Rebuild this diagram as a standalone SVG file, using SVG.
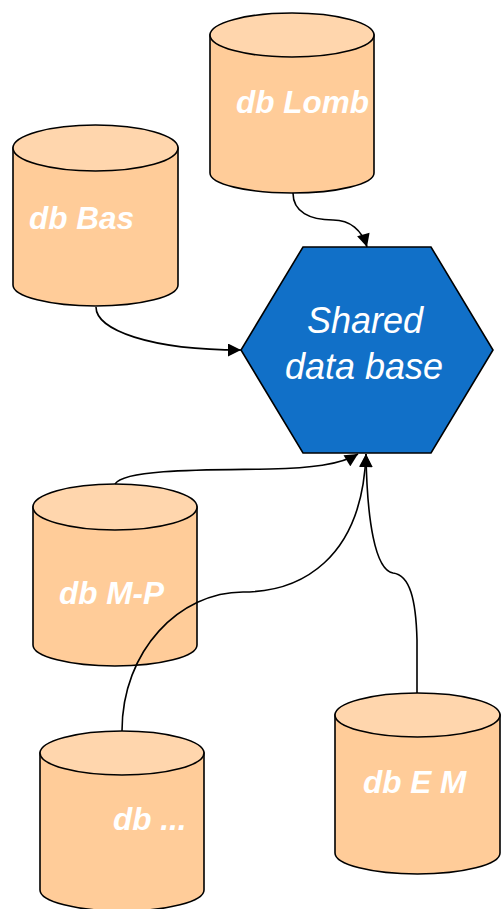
<svg xmlns="http://www.w3.org/2000/svg" width="504" height="909" viewBox="0 0 504 909">
<style>
.body{fill:#FFCC99;stroke:#000;stroke-width:1.6}
.top{fill:#FFD6AD;stroke:#000;stroke-width:1.6}
.lbl{font-family:"Liberation Sans",Arial,sans-serif;font-weight:bold;font-style:italic;font-size:31.5px;fill:#fff}
.hex{fill:#1170C8;stroke:#000;stroke-width:1.6}
.hl{font-family:"Liberation Sans",Arial,sans-serif;font-style:italic;font-size:36px;fill:#fff;text-anchor:middle}
.c{fill:none;stroke:#000;stroke-width:1.6}
</style>
<defs>
<marker id="ah" viewBox="0 0 10 10" refX="10" refY="5" markerWidth="14" markerHeight="13" markerUnits="userSpaceOnUse" orient="auto">
<path d="M0,0 L10,5 L0,10 z" fill="#000"/>
</marker>
</defs>
<g id="hub">
<polygon class="hex" points="303,247 431,247 493,350 431,453 303,453 241,350"/>
<text class="hl" x="365" y="333">Shared</text>
<text class="hl" x="364" y="379">data base</text>
</g>
<g id="db-lomb">
<path class="body" d="M210,35 L210,173 A82,20 0 0 0 374,173 L374,35 Z"/>
<ellipse class="top" cx="292" cy="35" rx="82" ry="22"/>
<text class="lbl" x="236" y="113">db Lomb</text>
</g>
<g id="db-bas">
<path class="body" d="M13,148 L13,285 A82.5,21 0 0 0 178,285 L178,148 Z"/>
<ellipse class="top" cx="95.5" cy="148" rx="82.5" ry="23"/>
<text class="lbl" x="29" y="229">db Bas</text>
</g>
<g id="db-mp">
<path class="body" d="M33,507 L33,645 A82,21 0 0 0 197,645 L197,507 Z"/>
<ellipse class="top" cx="115" cy="507" rx="82" ry="23"/>
<text class="lbl" x="59" y="604">db M-P</text>
</g>
<g id="db-etc">
<path class="body" d="M40,753 L40,890 A82,21 0 0 0 204,890 L204,753 Z"/>
<ellipse class="top" cx="122" cy="753" rx="82" ry="22"/>
<text class="lbl" x="113" y="830">db ...</text>
</g>
<g id="db-em">
<path class="body" d="M335,715 L335,853 A82.5,21 0 0 0 500,853 L500,715 Z"/>
<ellipse class="top" cx="417.5" cy="715" rx="82.5" ry="22"/>
<text class="lbl" x="363" y="793">db E M</text>
</g>
<g id="connectors">
<path class="c" d="M293,193 C293,212 310,220 333,220 C350,220 362,230 367,247" marker-end="url(#ah)"/>
<path class="c" d="M96,307 C96,330 150,350 241,350" marker-end="url(#ah)"/>
<path class="c" d="M115,484 C125,468 220,470 270,469 C310,468 340,465 358,454" marker-end="url(#ah)"/>
<path class="c" d="M122,731 C122,650 180,592 243,592 C300,592 362,560 366,454" marker-end="url(#ah)"/>
<path class="c" d="M417,693 L417,640 C416,600 410,575 393,573 C375,570 367,520 366,454" marker-end="url(#ah)"/>
</g>
</svg>
